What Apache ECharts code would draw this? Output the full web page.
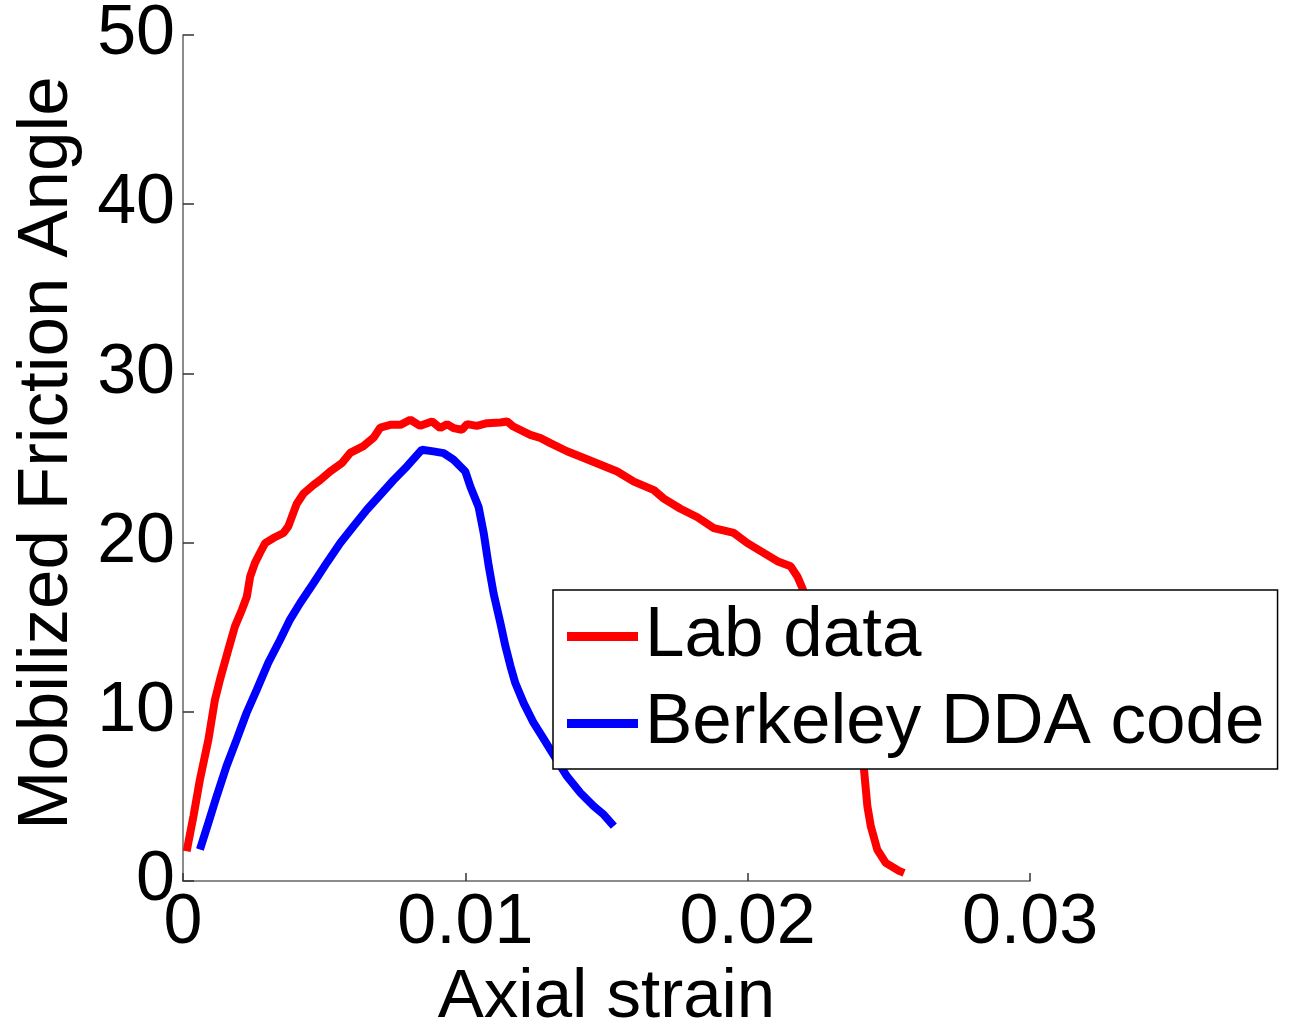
<!DOCTYPE html>
<html>
<head>
<meta charset="utf-8">
<script src="https://cdn.jsdelivr.net/npm/echarts@6/dist/echarts.min.js"></script>
<style>html,body{margin:0;padding:0;background:#fff}#c{width:1291px;height:1025px}</style>
</head>
<body>
<div id="c"></div>
<script>
const xTicks = [0, 0.01, 0.02, 0.03];
const yTicks = [0, 10, 20, 30, 40, 50];
const seriesNames = ['Lab data', 'Berkeley DDA code'];
const labStrain = [0.00013,0.00037,0.0006,0.0009,0.00113,0.00131,0.00161,0.00184,0.00208,0.00226,0.00238,0.00255,0.00273,0.00291,0.0032,0.00356,0.00373,0.00403,0.00427,0.00462,0.00486,0.00521,0.00563,0.00592,0.00639,0.00675,0.00699,0.00734,0.0077,0.00805,0.0084,0.00882,0.00911,0.00935,0.00958,0.00988,0.01006,0.01041,0.01077,0.01124,0.01148,0.0117,0.0123,0.01266,0.01301,0.0136,0.0142,0.01479,0.01538,0.01597,0.01668,0.01703,0.01762,0.01822,0.0188,0.01951,0.01999,0.02058,0.02105,0.02152,0.02176,0.02194,0.02412,0.02418,0.02424,0.02436,0.02459,0.02489,0.02536,0.02554];
const labAngle = [1.76,3.83,6.0,8.36,10.7,11.9,13.7,15.05,16.0,16.8,18.0,18.8,19.4,19.97,20.27,20.57,20.96,22.3,22.9,23.4,23.7,24.2,24.7,25.3,25.7,26.2,26.8,26.96,26.96,27.26,26.9,27.16,26.77,27.0,26.77,26.67,27.0,26.9,27.06,27.1,27.16,26.86,26.37,26.18,25.88,25.4,25.0,24.6,24.2,23.6,23.1,22.6,22.0,21.5,20.86,20.57,19.97,19.38,18.9,18.6,18.0,17.3,6.6,5.5,4.42,3.24,1.86,1.07,0.6,0.48];
const ddaStrain = [0.0006,0.0009,0.00119,0.00154,0.0019,0.00225,0.00261,0.00302,0.00344,0.00379,0.00415,0.00462,0.00509,0.00557,0.00604,0.00651,0.00699,0.00746,0.00793,0.00846,0.00887,0.00923,0.00958,0.01,0.01018,0.01047,0.01065,0.01083,0.011,0.01124,0.01142,0.0116,0.01177,0.01207,0.01242,0.01272,0.01301,0.0136,0.01408,0.01455,0.0149,0.01526];
const ddaAngle = [1.86,3.44,5.0,6.78,8.36,9.93,11.3,12.9,14.26,15.45,16.43,17.6,18.8,19.97,20.96,21.94,22.83,23.7,24.5,25.49,25.39,25.29,24.9,24.2,23.3,22.1,20.57,18.6,17.0,15.25,13.87,12.69,11.7,10.5,9.34,8.55,7.77,6.19,5.2,4.42,3.93,3.24];

const pairs = (xs, ys) => xs.map((x, i) => [x, ys[i]]);
const FONT = '"Liberation Sans", Arial, sans-serif';
const chart = echarts.init(document.getElementById('c'), null, {renderer: 'canvas'});
chart.setOption({
  animation: false,
  backgroundColor: '#fff',
  grid: {left: 183, right: 261, top: 35, bottom: 144, containLabel: false, outerBoundsMode: 'none'},
  xAxis: {
    type: 'value', min: xTicks[0], max: xTicks[xTicks.length - 1], interval: 0.01,
    name: 'Axial strain', nameLocation: 'middle', nameGap: 73,
    nameTextStyle: {fontSize: 69, fontFamily: FONT, color: '#000'},
    axisLine: {show: true, lineStyle: {color: '#666', width: 1.5}},
    axisTick: {show: true, inside: true, length: 8, lineStyle: {color: '#333', width: 1.5}},
    axisLabel: {fontSize: 70, fontFamily: FONT, color: '#000', margin: 8,
      formatter: v => String(xTicks.find(t => Math.abs(t - v) < 1e-9) ?? v)},
    splitLine: {show: false}
  },
  yAxis: {
    type: 'value', min: yTicks[0], max: yTicks[yTicks.length - 1], interval: 10,
    name: 'Mobilized Friction Angle', nameLocation: 'middle', nameGap: 100,
    nameTextStyle: {fontSize: 71, fontFamily: FONT, color: '#000', padding: [0, 0, 0, 10]},
    axisLine: {show: true, lineStyle: {color: '#666', width: 1.5}},
    axisTick: {show: true, inside: true, length: 11, lineStyle: {color: '#333', width: 1.5}},
    axisLabel: {fontSize: 70, fontFamily: FONT, color: '#000', margin: 8},
    splitLine: {show: false}
  },
  legend: {
    orient: 'vertical', left: 553, top: 590,
    padding: [11, 13, 10, 14], itemGap: 16,
    itemWidth: 71, itemHeight: 9, icon: 'rect',
    backgroundColor: '#fff', borderColor: '#000', borderWidth: 1.5, borderRadius: 0,
    textStyle: {fontSize: 71, fontFamily: FONT, color: '#000', padding: [0, 0, 0, 2]},
    data: seriesNames
  },
  series: [
    {name: seriesNames[0], type: 'line', data: pairs(labStrain, labAngle), showSymbol: false,
     lineStyle: {color: '#ff0000', width: 8}, itemStyle: {color: '#ff0000'}},
    {name: seriesNames[1], type: 'line', data: pairs(ddaStrain, ddaAngle), showSymbol: false,
     lineStyle: {color: '#0000ff', width: 8}, itemStyle: {color: '#0000ff'}}
  ]
});
</script>
</body>
</html>
